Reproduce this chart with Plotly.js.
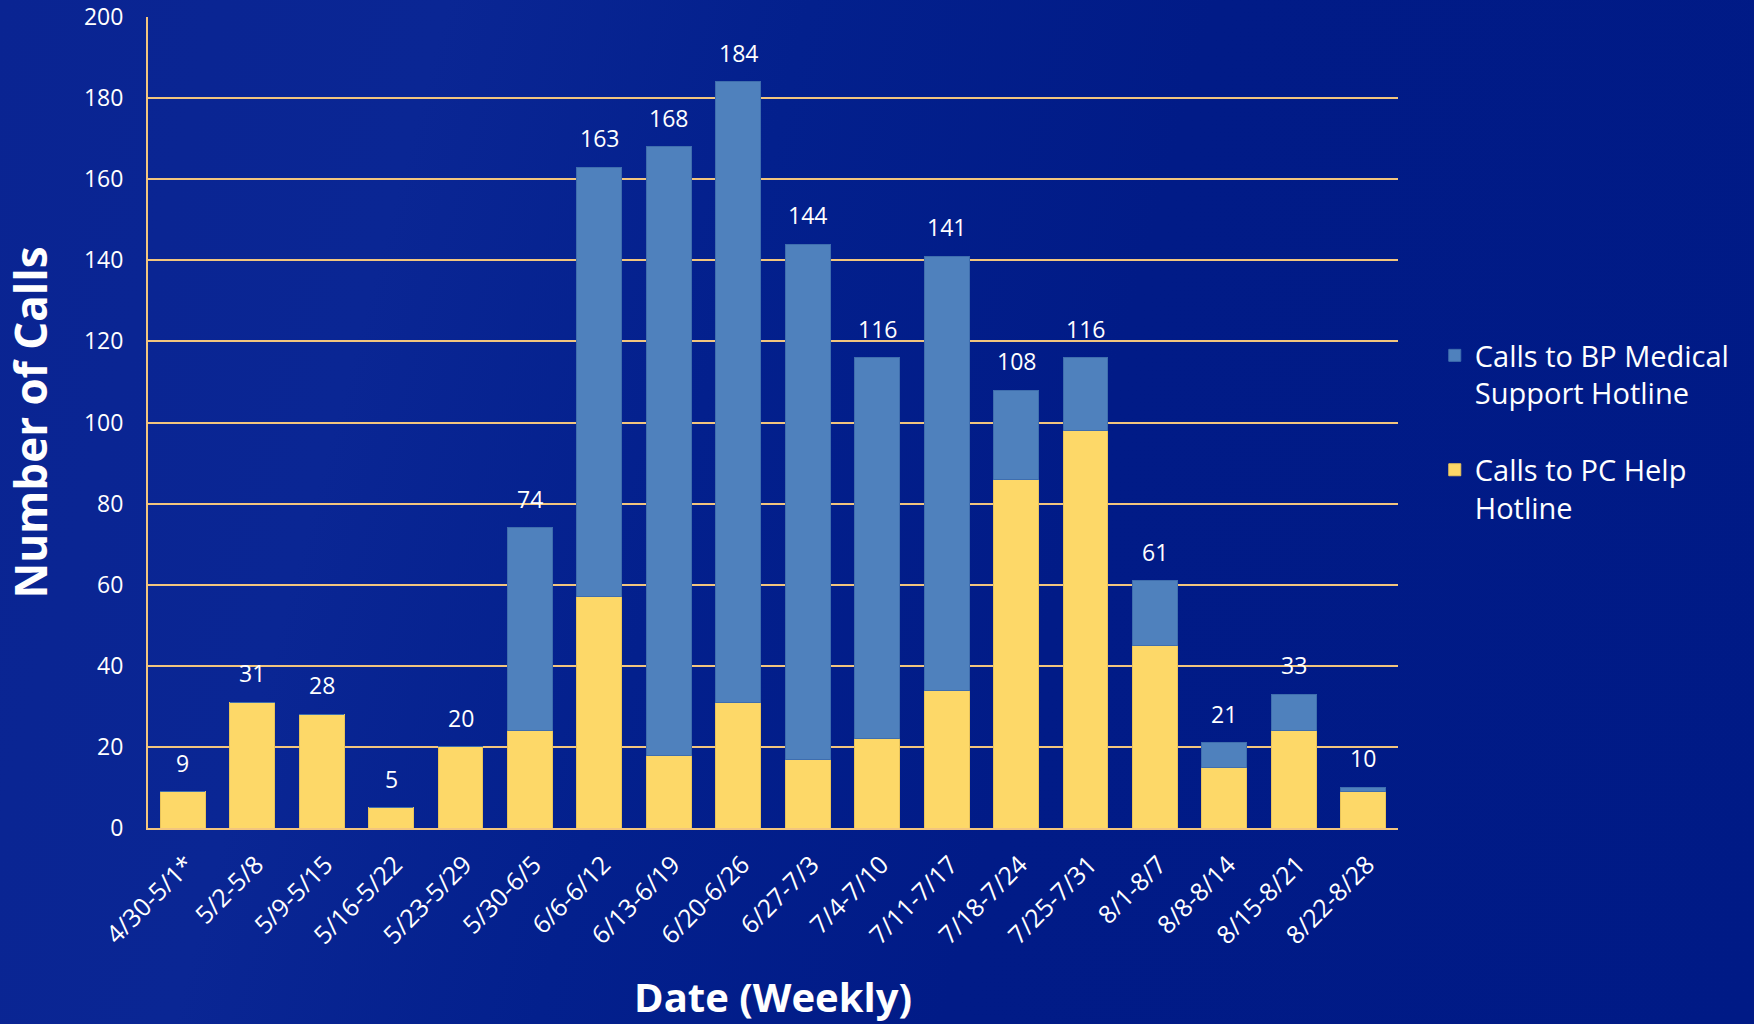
<!DOCTYPE html>
<html>
<head>
<meta charset="utf-8">
<script src="https://cdn.plot.ly/plotly-3.0.1.min.js"></script>
<style>
  html, body { margin: 0; padding: 0; }
  body {
    width: 1754px; height: 1024px; overflow: hidden;
    background: linear-gradient(105deg, #0a2492 0%, #0a2694 22%, #03208d 40%, #011b87 60%, #001a86 100%);
  }
  #chart { width: 1754px; height: 1024px; }
</style>
</head>
<body>
<div id="chart"></div>
<script>
// Weekly categories
const weeks = ["4/30-5/1*", "5/2-5/8", "5/9-5/15", "5/16-5/22", "5/23-5/29", "5/30-6/5",
  "6/6-6/12", "6/13-6/19", "6/20-6/26", "6/27-7/3", "7/4-7/10", "7/11-7/17",
  "7/18-7/24", "7/25-7/31", "8/1-8/7", "8/8-8/14", "8/15-8/21", "8/22-8/28"];
// Calls to PC Help Hotline (bottom, yellow)
const pcHelpCalls = [9, 31, 28, 5, 20, 24, 57, 18, 31, 17, 22, 34, 86, 98, 45, 15, 24, 9];
// Calls to BP Medical Support Hotline (top, blue)
const bpMedicalCalls = [0, 0, 0, 0, 0, 50, 106, 150, 153, 127, 94, 107, 22, 18, 16, 6, 9, 1];
const yTicks = [0, 20, 40, 60, 80, 100, 120, 140, 160, 180, 200];

const totals = weeks.map((w, i) => pcHelpCalls[i] + bpMedicalCalls[i]);

const FONT = "Open Sans, Noto Sans, sans-serif";
const gridCol = "#f2c57e";

const tracePC = {
  type: "bar", name: "Calls to PC Help<br>Hotline",
  x: weeks, y: pcHelpCalls, legendgroup: "pc", legendrank: 2,
  marker: { color: "#fdd868", line: { color: "#e8c35a", width: 1 } },
  hoverinfo: "x+y"
};
const traceBP = {
  type: "bar", name: "Calls to BP Medical<br>Support Hotline",
  x: weeks, y: bpMedicalCalls, legendgroup: "bp", legendrank: 1,
  marker: { color: "#4f81bd", line: { color: "#3f6eae", width: 1 } },
  hoverinfo: "x+y"
};

const annotations = weeks.map((w, i) => ({
  x: w, y: totals[i], xref: "x", yref: "y",
  text: String(totals[i]), showarrow: false,
  yanchor: "bottom", yshift: 11,
  font: { family: FONT, size: 23, color: "#ffffff" }
}));

const layout = {
  width: 1754, height: 1024,
  paper_bgcolor: "rgba(0,0,0,0)", plot_bgcolor: "rgba(0,0,0,0)",
  margin: { l: 148, r: 356, t: 17, b: 196 },
  barmode: "stack", bargap: 0.355,
  font: { family: FONT, color: "#ffffff" },
  showlegend: true,
  legend: {
    xref: "container", yref: "container",
    x: 0.818, y: 1 - 330 / 1024, xanchor: "left", yanchor: "top",
    bgcolor: "rgba(0,0,0,0)", borderwidth: 0,
    font: { family: FONT, size: 29, color: "#ffffff" },
    traceorder: "grouped", tracegroupgap: 36, valign: "top"
  },
  xaxis: {
    type: "category", tickangle: -45,
    tickfont: { family: FONT, size: 25, color: "#ffffff" },
    showline: true, linecolor: gridCol, linewidth: 2,
    showgrid: false, ticks: "", ticklabelstandoff: 10, ticklabelshift: 4,
    title: { text: "Date (Weekly)", font: { family: FONT, size: 40, color: "#ffffff", weight: "bold" }, standoff: 44 },
    automargin: false
  },
  yaxis: {
    range: [0, 200], tickvals: yTicks, ticktext: yTicks.map(String),
    tickfont: { family: FONT, size: 23, color: "#ffffff" },
    showline: true, linecolor: gridCol, linewidth: 2,
    showgrid: true, gridcolor: gridCol, gridwidth: 2,
    zeroline: false, ticks: "", ticklabelstandoff: 18,
    title: { text: "Number of Calls", font: { family: FONT, size: 44, color: "#ffffff", weight: "bold" }, standoff: 36 },
    automargin: false
  },
  annotations: annotations
};

Plotly.newPlot("chart", [tracePC, traceBP], layout, { displayModeBar: false, staticPlot: true });
</script>
</body>
</html>
